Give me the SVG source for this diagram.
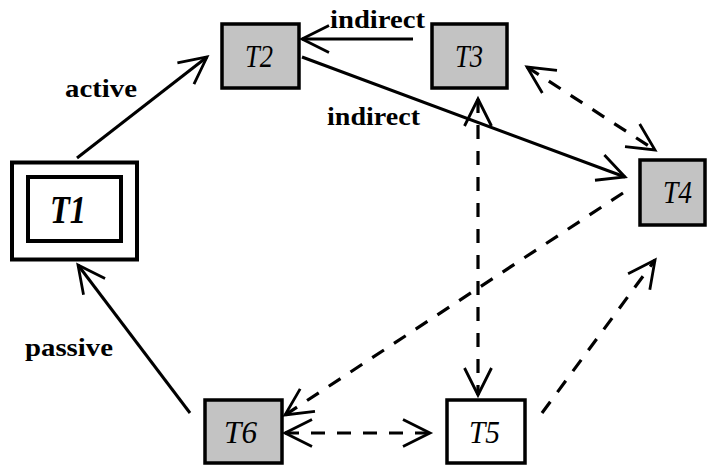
<svg xmlns="http://www.w3.org/2000/svg" width="709" height="468" viewBox="0 0 709 468">
<style>
.box{fill:#c3c3c3;stroke:#000;stroke-width:3.5}
.wbox{fill:#fff;stroke:#000;stroke-width:3.5}
.t1{fill:#fff;stroke:#000;stroke-width:4}
.nd{font-family:"Liberation Serif",serif;font-style:italic;font-size:32px;fill:#000}
.nd1{font-family:"Liberation Serif",serif;font-style:italic;font-weight:bold;font-size:40px;fill:#000}
.lbl{font-family:"Liberation Serif",serif;font-weight:bold;font-size:25px;fill:#000}
.sol{fill:none;stroke:#000;stroke-width:3}
.dsh{fill:none;stroke:#000;stroke-width:3.2;stroke-dasharray:14 12}
</style>
<defs>
<marker id="ah" viewBox="-34 -18 38 36" refX="0" refY="0" markerWidth="38" markerHeight="36" markerUnits="userSpaceOnUse" orient="auto-start-reverse">
<path d="M -27 -13.5 L 0 0 L -27 13.5" fill="none" stroke="#000" stroke-width="2.8" stroke-dasharray="none"/>
</marker>
</defs>
<rect width="709" height="468" fill="#fff"/>
<g id="connectors">
<line class="sol" x1="77" y1="158" x2="207" y2="57" marker-end="url(#ah)"/>
<line class="sol" x1="190" y1="413" x2="78" y2="265" marker-end="url(#ah)"/>
<line class="sol" x1="413" y1="39" x2="302" y2="39" marker-end="url(#ah)"/>
<line class="sol" x1="302" y1="57" x2="625" y2="177" marker-end="url(#ah)"/>
<line class="dsh" x1="527" y1="67" x2="655" y2="150" marker-start="url(#ah)" marker-end="url(#ah)"/>
<line class="dsh" x1="623" y1="193" x2="285" y2="415" marker-end="url(#ah)"/>
<line class="dsh" x1="285" y1="433" x2="430" y2="433" marker-start="url(#ah)" marker-end="url(#ah)"/>
<line class="dsh" x1="478" y1="99" x2="478" y2="395" marker-start="url(#ah)" marker-end="url(#ah)"/>
<line class="dsh" x1="542" y1="413" x2="655" y2="260" marker-end="url(#ah)"/>
<text class="lbl" x="330" y="28" textLength="95" lengthAdjust="spacingAndGlyphs">indirect</text>
<text class="lbl" x="327" y="125" textLength="93" lengthAdjust="spacingAndGlyphs">indirect</text>
<text class="lbl" x="65" y="97" textLength="72" lengthAdjust="spacingAndGlyphs">active</text>
<text class="lbl" x="25" y="356" textLength="88" lengthAdjust="spacingAndGlyphs">passive</text>
</g>
<g id="T1">
<rect class="t1" x="12" y="162.5" width="125" height="97"/>
<rect class="t1" x="28" y="177" width="93" height="64"/>
<text class="nd1" x="50" y="223" textLength="36" lengthAdjust="spacingAndGlyphs">T1</text>
</g>
<g id="T2">
<rect class="box" x="222" y="24" width="77" height="64"/>
<text class="nd" x="245" y="67" textLength="28" lengthAdjust="spacingAndGlyphs">T2</text>
</g>
<g id="T3">
<rect class="box" x="432" y="24" width="75" height="64"/>
<text class="nd" x="455" y="67" textLength="28" lengthAdjust="spacingAndGlyphs">T3</text>
</g>
<g id="T4">
<rect class="box" x="640" y="160" width="65" height="65"/>
<text class="nd" x="663" y="203" textLength="29" lengthAdjust="spacingAndGlyphs">T4</text>
</g>
<g id="T5">
<rect class="wbox" x="447" y="400" width="78" height="63"/>
<text class="nd" x="469" y="443" textLength="31" lengthAdjust="spacingAndGlyphs">T5</text>
</g>
<g id="T6">
<rect class="box" x="205" y="400" width="77" height="63"/>
<text class="nd" x="224" y="443" textLength="33" lengthAdjust="spacingAndGlyphs">T6</text>
</g>
</svg>
